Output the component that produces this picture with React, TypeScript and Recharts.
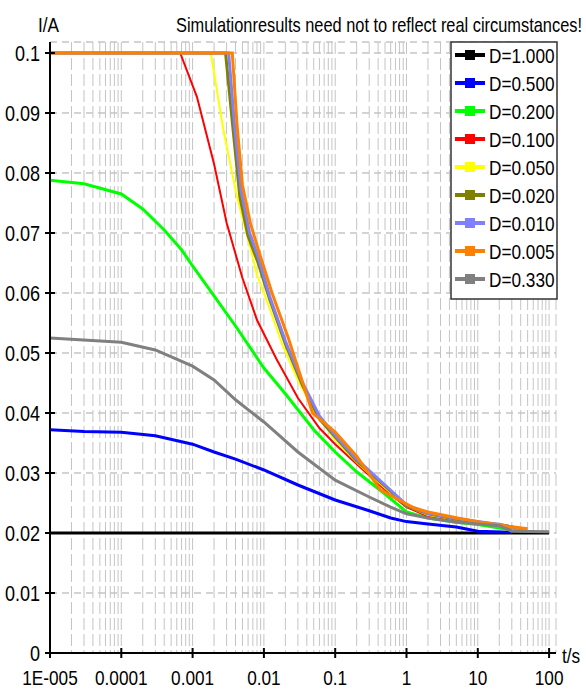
import React from 'react';
import { LineChart, Line, XAxis, YAxis, CartesianGrid } from 'recharts';

// decade ticks and their labels
const DECADES = [1e-5, 1e-4, 1e-3, 1e-2, 1e-1, 1, 10, 100];
const X_LABELS = ['1E-005', '0.0001', '0.001', '0.01', '0.1', '1', '10', '100'];
const Y_TICKS = [0, 0.01, 0.02, 0.03, 0.04, 0.05, 0.06, 0.07, 0.08, 0.09, 0.1];
const Y_LABELS = ['0', '0.01', '0.02', '0.03', '0.04', '0.05', '0.06', '0.07', '0.08', '0.09', '0.1'];

// minor grid ticks 1..9 per decade
const X_TICKS: number[] = [];
DECADES.slice(0, -1).forEach((d) => {
  for (let m = 1; m <= 9; m++) X_TICKS.push(m === 1 ? d : m * d);
});
X_TICKS.push(100);

// series: time (s) and current (A)
const T_D1000 = [1e-5, 100];
const I_D1000 = [0.02, 0.02];

const T_D0500 = [1e-5, 3e-5, 1e-4, 3e-4, 1e-3, 2e-3, 4e-3, 0.01, 0.03, 0.1, 0.3, 0.6, 1, 2, 5, 10, 30];
const I_D0500 = [0.0372, 0.0369, 0.0368, 0.0362, 0.0348, 0.0335, 0.0323, 0.0305, 0.028, 0.0255, 0.0237, 0.0225, 0.0219, 0.0215, 0.021, 0.0203, 0.0201];

const T_D0200 = [1e-5, 3e-5, 1e-4, 2e-4, 4e-4, 7e-4, 1e-3, 2e-3, 4e-3, 0.01, 0.02, 0.05, 0.1, 0.2, 0.5, 1, 2, 5, 10, 30];
const I_D0200 = [0.0788, 0.0782, 0.0765, 0.074, 0.0705, 0.0672, 0.0645, 0.0595, 0.0545, 0.0475, 0.0432, 0.0372, 0.0335, 0.0302, 0.0265, 0.0235, 0.0225, 0.0218, 0.0214, 0.0205];

const T_D0100 = [1e-5, 6.7e-4, 1.15e-3, 2e-3, 3e-3, 5e-3, 8e-3, 0.015, 0.03, 0.06, 0.1, 0.2, 0.5, 1, 2, 5, 10, 20, 40];
const I_D0100 = [0.1, 0.1, 0.0927, 0.0815, 0.0717, 0.0625, 0.0555, 0.049, 0.0425, 0.0375, 0.0348, 0.0315, 0.0272, 0.0243, 0.0228, 0.022, 0.0216, 0.0212, 0.0205];

const T_D0050 = [1e-5, 1.8e-3, 2.7e-3, 4.2e-3, 6.4e-3, 8e-3, 0.012, 0.018, 0.03, 0.05, 0.1, 0.2, 0.5, 1, 2, 5, 10, 20, 40];
const I_D0050 = [0.1, 0.1, 0.0872, 0.076, 0.0677, 0.063, 0.0575, 0.0515, 0.0455, 0.0405, 0.0355, 0.0318, 0.0275, 0.0245, 0.023, 0.0222, 0.0217, 0.0213, 0.0206];

const T_D0020 = [1e-5, 2.9e-3, 3.7e-3, 4.6e-3, 6e-3, 8.3e-3, 0.012, 0.02, 0.035, 0.06, 0.1, 0.2, 0.5, 1, 2, 5, 10, 20, 45];
const I_D0020 = [0.1, 0.1, 0.0872, 0.076, 0.0695, 0.065, 0.059, 0.0515, 0.0445, 0.039, 0.036, 0.032, 0.0278, 0.0245, 0.0232, 0.0223, 0.0218, 0.0214, 0.0206];

const T_D0010 = [1e-5, 3.2e-3, 3.9e-3, 4.8e-3, 6.3e-3, 8.6e-3, 0.012, 0.02, 0.035, 0.06, 0.1, 0.2, 0.5, 1, 2, 5, 10, 20, 45];
const I_D0010 = [0.1, 0.1, 0.0875, 0.077, 0.07, 0.0655, 0.0595, 0.052, 0.045, 0.0395, 0.0363, 0.0323, 0.028, 0.0247, 0.0233, 0.0224, 0.0219, 0.0214, 0.0206];

const T_D0005 = [1e-5, 3.6e-3, 4.2e-3, 5e-3, 6.5e-3, 9e-3, 0.013, 0.022, 0.048, 0.1, 0.2, 0.43, 1.26, 2, 5.2, 11, 32, 50];
const I_D0005 = [0.1, 0.1, 0.088, 0.078, 0.0715, 0.066, 0.06, 0.0525, 0.04, 0.0368, 0.0328, 0.0272, 0.0242, 0.0235, 0.0225, 0.0218, 0.021, 0.0207];

const T_D0330 = [1e-5, 1e-4, 3e-4, 1e-3, 2e-3, 4e-3, 0.01, 0.03, 0.1, 0.3, 0.6, 1, 2, 5, 10, 20, 30, 100];
const I_D0330 = [0.0525, 0.0518, 0.0505, 0.0478, 0.0455, 0.0422, 0.0385, 0.0335, 0.0288, 0.026, 0.0243, 0.0232, 0.0225, 0.0218, 0.0215, 0.0212, 0.0203, 0.0202];

const NAMES = ['D=1.000', 'D=0.500', 'D=0.200', 'D=0.100', 'D=0.050', 'D=0.020', 'D=0.010', 'D=0.005', 'D=0.330'];
const COLORS = ['#000000', '#0000ff', '#00ff00', '#ff0000', '#ffff00', '#808000', '#8080ff', '#ff8000', '#808080'];
const WIDTHS = [3, 3, 3, 2, 2, 3, 3, 3, 3];

const zip = (t: number[], i: number[]) => t.map((v, k) => ({ t: v, i: i[k] }));

const SERIES = [
  zip(T_D1000, I_D1000),
  zip(T_D0500, I_D0500),
  zip(T_D0200, I_D0200),
  zip(T_D0100, I_D0100),
  zip(T_D0050, I_D0050),
  zip(T_D0020, I_D0020),
  zip(T_D0010, I_D0010),
  zip(T_D0005, I_D0005),
  zip(T_D0330, I_D0330),
];

const FONT = "'Liberation Sans', Arial, sans-serif";

const Narrow = ({ x, y, anchor = 'start', size = 21, children }: any) => (
  <text
    transform={`translate(${x} ${y}) scale(0.82 1)`}
    textAnchor={anchor}
    fontSize={size}
    fontFamily={FONT}
    fill="#000"
  >
    {children}
  </text>
);

const XTick = (props: any) => {
  const { x, y, payload } = props;
  const idx = DECADES.indexOf(payload.value);
  if (idx < 0) return null;
  return (
    <g>
      <line x1={x} x2={x} y1={y - 5} y2={y + 5} stroke="#000" strokeWidth={2} />
      <Narrow x={x} y={y + 32} anchor="middle" size={21}>{X_LABELS[idx]}</Narrow>
    </g>
  );
};

const YTick = (props: any) => {
  const { x, y, payload } = props;
  const idx = Y_TICKS.indexOf(payload.value);
  return (
    <g>
      <line x1={x - 5} x2={x + 5} y1={y} y2={y} stroke="#000" strokeWidth={2} />
      <Narrow x={x - 10} y={y + 8} anchor="end" size={22}>{Y_LABELS[idx]}</Narrow>
    </g>
  );
};

const LegendBox = () => (
  <g>
    <rect x={451} y={42} width={106} height={257} fill="#fff" stroke="#333" strokeWidth={1.5} />
    {NAMES.map((n, k) => {
      const cy = 55 + k * 28;
      return (
        <g key={n}>
          <line x1={455} x2={485} y1={cy} y2={cy} stroke={COLORS[k]} strokeWidth={4} />
          <rect x={465} y={cy - 5} width={10} height={10} fill={COLORS[k]} />
          <Narrow x={489} y={cy + 8} size={21}>{n}</Narrow>
        </g>
      );
    })}
  </g>
);

export default function App() {
  return (
    <div style={{ position: 'absolute', left: 0, top: 0, background: '#fff' }}>
      <LineChart width={586} height={694} margin={{ top: 42, right: 30, bottom: 0, left: 0 }}>
        <CartesianGrid horizontal vertical={false} strokeDasharray="7 5" stroke="#a8a8a8" />
        <CartesianGrid horizontal={false} vertical strokeDasharray="12 4" stroke="#c4c4c4" />
        <XAxis
          dataKey="t"
          type="number"
          scale="log"
          domain={[1e-5, 125]}
          allowDataOverflow
          ticks={X_TICKS}
          interval={0}
          height={41}
          tickSize={0}
          tickMargin={0}
          tickLine={false}
          tick={<XTick />}
          axisLine={{ stroke: '#000', strokeWidth: 2 }}
        />
        <YAxis
          dataKey="i"
          type="number"
          domain={[0, 0.10183]}
          allowDataOverflow
          ticks={Y_TICKS}
          interval={0}
          width={50}
          tickSize={0}
          tickMargin={0}
          tickLine={false}
          tick={<YTick />}
          axisLine={{ stroke: '#000', strokeWidth: 2 }}
        />
        {SERIES.map((d, k) => (
          <Line
            key={NAMES[k]}
            data={d}
            dataKey="i"
            type="linear"
            stroke={COLORS[k]}
            strokeWidth={WIDTHS[k]}
            dot={false}
            activeDot={false}
            isAnimationActive={false}
          />
        ))}
        <Narrow x={582} y={32} anchor="end" size={20}>
          Simulationresults need not to reflect real circumstances!
        </Narrow>
        <Narrow x={38} y={32} size={21}>I/A</Narrow>
        <Narrow x={562} y={663} size={21}>t/s</Narrow>
        <LegendBox />
      </LineChart>
    </div>
  );
}
